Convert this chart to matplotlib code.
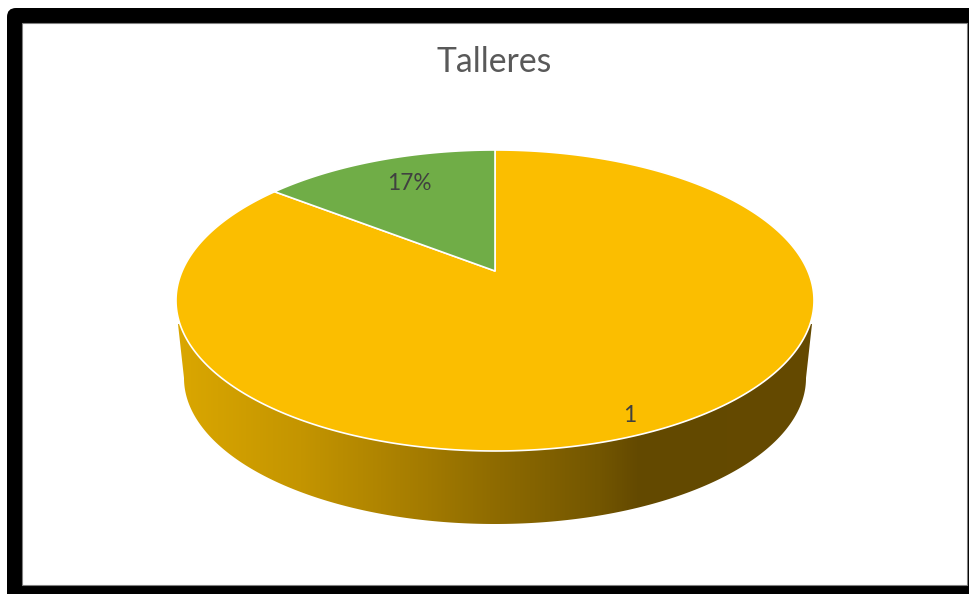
"""Talleres: tilted 3D style pie with a shaded wall."""

import numpy as np
from matplotlib import pyplot as plt
from matplotlib.colors import LinearSegmentedColormap
from matplotlib.patches import FancyBboxPatch, Polygon, Rectangle

title = "Talleres"
slice_labels = ["1", "17%"]
slice_values = [83, 17]
slice_colors = ["#FBBE00", "#70AD47"]

# view geometry in pixels
top_center = (495.0, 300.5)
top_radii = (319.0, 150.5)
apex = (495.0, 271.0)
base_center = (495.0, 378.0)
base_radii = (311.0, 146.0)
# the tilted view squeezes the far side of the disc
foreshorten = 1.19

wall_x = [176, 190, 300, 400, 500, 600, 640, 814]
wall_colors = ["#DAA700", "#D8A500", "#C49500", "#AA8000", "#8D6A00", "#735600", "#634900", "#654A00"]


def rim_points(center, radii, a_from, a_to, n=300):
    # angles are measured counterclockwise from twelve o'clock
    a = np.radians(np.linspace(a_from, a_to, n))
    return np.column_stack([center[0] - radii[0] * np.sin(a), center[1] - radii[1] * np.cos(a)])


def rim_angle(fraction):
    return 360 * fraction**foreshorten


fig = plt.figure(figsize=(9.69, 5.94), dpi=100)
ax = fig.add_axes((0, 0, 1, 1))
ax.axis("off")

# black rounded frame, running off the right and bottom edges
ax.add_patch(FancyBboxPatch((15, 16), 1000, 640, boxstyle="round,pad=8,rounding_size=9", fc="black", ec="none"))
ax.add_patch(Rectangle((22, 22.5), 945.5, 562.5, fc="white", ec="#808080", lw=0.8, zorder=1))

# side wall: lower half of the top rim, back along the base ellipse
wall_top = rim_points(top_center, top_radii, 99, 261)
wall_base = rim_points(base_center, base_radii, 270, 90)
wall_outline = np.vstack([[(178, 324)], wall_top, [(812, 324)], wall_base])
wall = Polygon(wall_outline, closed=True, fc="none", ec="none")
ax.add_patch(wall)

stops = [(x - wall_x[0]) / (wall_x[-1] - wall_x[0]) for x in wall_x]
wall_cmap = LinearSegmentedColormap.from_list("wall", list(zip(stops, wall_colors)))
shade = ax.imshow(
    np.linspace(0, 1, 512)[None, :],
    cmap=wall_cmap,
    extent=(wall_x[0], wall_x[-1], 530, 310),
    aspect="auto",
    zorder=2,
)
shade.set_clip_path(wall)

# top face, one wedge per value
total = sum(slice_values)
green_frac = slice_values[1] / total
edge = {"ec": "white", "lw": 1.2, "joinstyle": "round", "zorder": 3}
yellow_rim = rim_points(top_center, top_radii, rim_angle(green_frac), rim_angle(1.0))
ax.add_patch(Polygon(np.vstack([[apex], yellow_rim]), closed=True, fc=slice_colors[0], **edge))
green_rim = rim_points(top_center, top_radii, 0, rim_angle(green_frac), n=120)
ax.add_patch(Polygon(np.vstack([[apex], green_rim]), closed=True, fc=slice_colors[1], **edge))

font = ["Lato", "DejaVu Sans"]
ax.text(494.5, 62, title, color="#595959", fontsize=24.3, ha="center", va="center", family=font, zorder=5)
ax.text(409.5, 184, slice_labels[1], color="#404040", fontsize=16.3, ha="center", va="center", family=font, zorder=5)
ax.text(630, 416, slice_labels[0], color="#404040", fontsize=16.3, ha="center", va="center", family=font, zorder=5)

ax.set_xlim(0, 969)
ax.set_ylim(594, 0)
fig.savefig("out.png", dpi=100)
plt.close()
